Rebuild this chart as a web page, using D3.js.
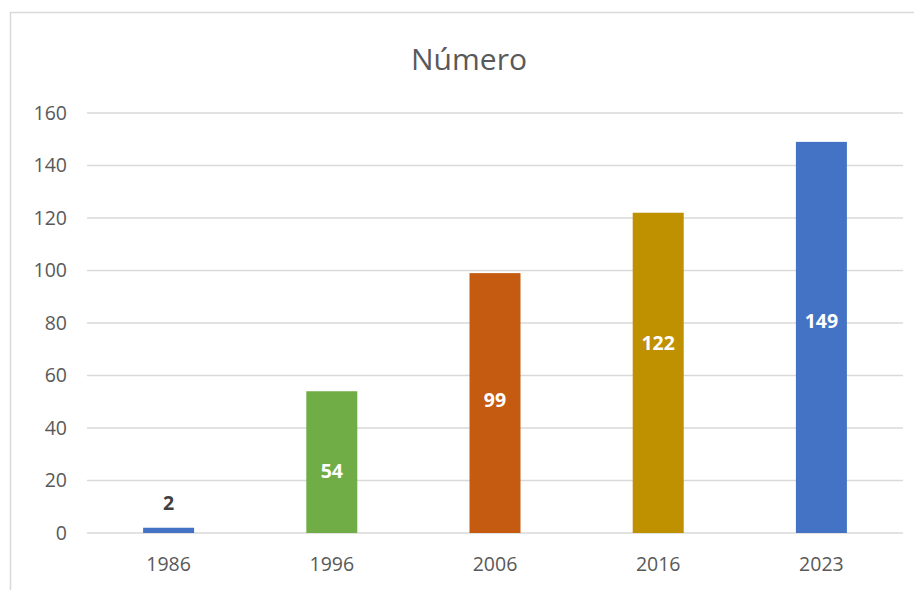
<!DOCTYPE html>
<html><head><meta charset="utf-8">
<script src="https://cdn.jsdelivr.net/npm/d3@7"></script>
<style>body{margin:0;background:#fff;} svg{display:block;font-family:"Open Sans",sans-serif;}</style>
</head><body>
<svg id="c" width="914" height="590"></svg>
<script>
const categories = ["1986","1996","2006","2016","2023"];
const values = [2,54,99,122,149];
const colors = ["#4472C4","#70AD47","#C55A11","#BF9000","#4472C4"];
// data-label anchor heights (in value units), as placed in the original chart
const labelAt = [11.8,24,51,72.4,81.1];
const yTicks = [0,20,40,60,80,100,120,140,160];
const title = "Número";

(function(){
const svg = d3.select("#c");
svg.append("path").attr("d","M10.5,600 V12.5 H920").attr("fill","none").attr("stroke","#D9D9D9").attr("stroke-width",1.5);

const pL=87, pR=903, pT=113, pB=533;
const x = d3.scaleBand().domain(categories).range([pL,pR]).paddingInner(0.6875).paddingOuter(0.34375);
const y = d3.scaleLinear().domain([0,160]).range([pB,pT]);

const grid = svg.append("g");
yTicks.forEach(t=>{
  grid.append("line").attr("x1",pL).attr("x2",pR).attr("y1",y(t)).attr("y2",y(t))
    .attr("stroke","#D9D9D9").attr("stroke-width",1.5);
});

const yAxis = d3.axisLeft(y).tickValues(yTicks).tickSize(0).tickPadding(20);
const ya = svg.append("g").attr("transform",`translate(${pL},0)`).call(yAxis);
ya.select(".domain").remove();
ya.selectAll("text").attr("fill","#595959").style("font-size","19.5px").style("font-family","'Open Sans',sans-serif");

const xAxis = d3.axisBottom(x).tickSize(0).tickPadding(24);
const xa = svg.append("g").attr("transform",`translate(0,${pB})`).call(xAxis);
xa.select(".domain").remove();
xa.selectAll("text").attr("fill","#595959").style("font-size","19.5px").style("font-family","'Open Sans',sans-serif");

svg.selectAll("rect.bar").data(values).enter().append("rect").attr("class","bar")
  .attr("x",(d,i)=>x(categories[i])).attr("width",x.bandwidth())
  .attr("y",d=>y(d)).attr("height",d=>y(0)-y(d)).attr("fill",(d,i)=>colors[i]);

svg.selectAll("text.lbl").data(values).enter().append("text").attr("class","lbl")
  .attr("x",(d,i)=>x(categories[i])+x.bandwidth()/2)
  .attr("y",(d,i)=> y(labelAt[i]))
  .attr("text-anchor","middle").attr("dominant-baseline","central")
  .attr("fill",(d,i)=> labelAt[i] > d ? "#404040" : "#FFFFFF")
  .style("font-size","19.5px").style("font-weight","bold")
  .text(d=>d);

svg.append("text").attr("x",469).attr("y",58).attr("text-anchor","middle").attr("dominant-baseline","central")
  .attr("fill","#595959").style("font-size","30px").text(title);
})();
</script>
</body></html>
